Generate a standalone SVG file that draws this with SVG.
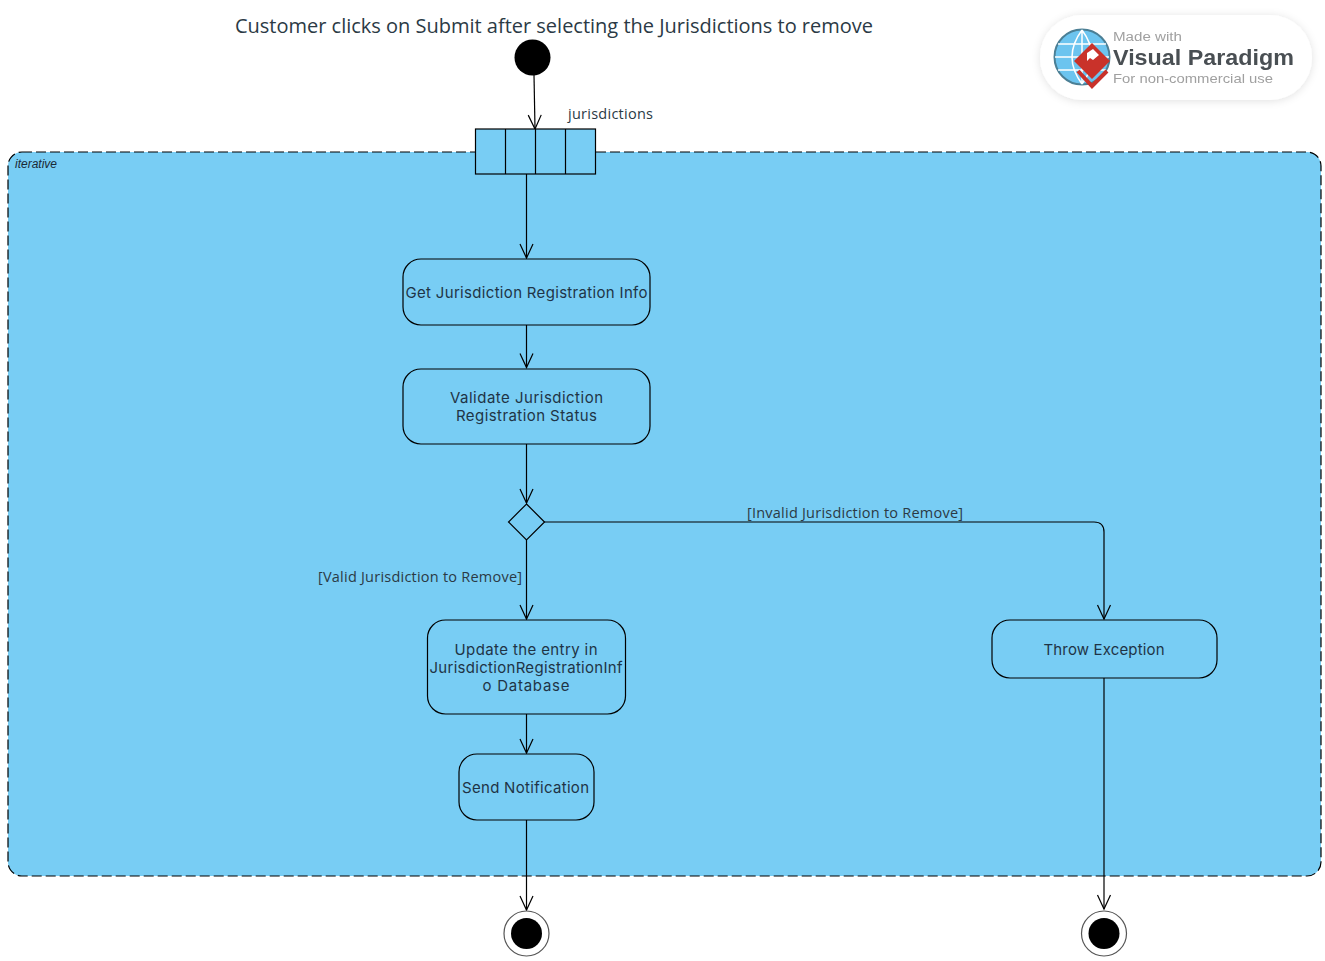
<svg xmlns="http://www.w3.org/2000/svg" width="1325" height="961" viewBox="0 0 1325 961">
<style>
.n{fill:#78cdf4;stroke:#000;stroke-width:1.2}
.c{fill:none;stroke:#000;stroke-width:1.2}
.t{font-family:"Inter","Noto Sans",sans-serif;font-size:15px;fill:#1f3446;text-anchor:middle}
.l{font-family:"Open Sans","Noto Sans",sans-serif;font-size:14.5px;fill:#2b3a45}
</style>
<defs>
<marker id="a" markerUnits="userSpaceOnUse" markerWidth="18" markerHeight="18" refX="14" refY="7" orient="auto" overflow="visible"><path d="M0 0L14 6.5L0 13" transform="translate(0 0.5)" fill="none" stroke="#000" stroke-width="1.2"/></marker>
<filter id="b" x="-10%" y="-20%" width="120%" height="140%"><feDropShadow dx="0" dy="1" stdDeviation="4" flood-color="#000" flood-opacity=".12"/></filter>
<filter id="s" x="-5%" y="-5%" width="110%" height="110%"><feGaussianBlur stdDeviation=".5"/></filter>
</defs>
<rect width="1325" height="961" fill="#fff"/>
<g id="iterative">
<rect x="8" y="152" width="1313" height="724" rx="14" fill="#78cdf4" stroke="#000" stroke-width="1.2" stroke-dasharray="10 4"/>
<text x="15" y="168" font-family="Liberation Sans,sans-serif" font-size="12" font-style="italic" fill="#1a2a36" textLength="42">iterative</text>
</g>
<g id="connectors">
<path class="c" marker-end="url(#a)" d="M534 75L535 129"/>
<path class="c" marker-end="url(#a)" d="M526.500 174V258"/>
<path class="c" marker-end="url(#a)" d="M526.500 325V367.500"/>
<path class="c" marker-end="url(#a)" d="M526.500 444V503"/>
<path class="c" marker-end="url(#a)" d="M526.500 540V619"/>
<path class="c" marker-end="url(#a)" d="M526.500 714V753"/>
<path class="c" marker-end="url(#a)" d="M526.500 820V910"/>
<path class="c" marker-end="url(#a)" d="M544 522H1094Q1104 522 1104 532V619"/>
<path class="c" marker-end="url(#a)" d="M1104 678V909"/>
</g>
<g id="title"><text x="235" y="33" font-family="Open Sans,sans-serif" font-size="20" fill="#2b3a45" textLength="638">Customer clicks on Submit after selecting the Jurisdictions to remove</text></g>
<g id="start"><circle cx="532.500" cy="57.500" r="18" fill="#000"/></g>
<g id="pin">
<rect class="n" x="475.500" y="129" width="120" height="45"/>
<path class="c" d="M505.500 129V174M535.500 129V174M565.500 129V174"/>
<text class="l" x="568" y="119" textLength="85">jurisdictions</text>
</g>
<g id="get-info">
<rect class="n" x="403" y="259" width="247" height="66" rx="18"/>
<text class="t" x="526.500" y="298" textLength="242">Get Jurisdiction Registration Info</text>
</g>
<g id="validate">
<rect class="n" x="403" y="369" width="247" height="75" rx="18"/>
<text class="t" x="526.500" y="403" textLength="153">Validate Jurisdiction</text>
<text class="t" x="526.500" y="421" textLength="141">Registration Status</text>
</g>
<g id="decision">
<path class="n" d="M526.500 504L544.500 522L526.500 540L508.500 522Z"/>
<text class="l" x="747" y="518" textLength="216">[Invalid Jurisdiction to Remove]</text>
<text class="l" x="318" y="582" textLength="204">[Valid Jurisdiction to Remove]</text>
</g>
<g id="update">
<rect class="n" x="427.500" y="620" width="198" height="94" rx="18"/>
<text class="t" x="526" y="655" textLength="143">Update the entry in</text>
<text class="t" x="526" y="673" textLength="193">JurisdictionRegistrationInf</text>
<text class="t" x="526" y="691" textLength="87">o Database</text>
</g>
<g id="send">
<rect class="n" x="459" y="754" width="135" height="66" rx="18"/>
<text class="t" x="525.500" y="793" textLength="127">Send Notification</text>
</g>
<g id="throw">
<rect class="n" x="992" y="620" width="225" height="58" rx="18"/>
<text class="t" x="1104" y="655" textLength="121">Throw Exception</text>
</g>
<g id="end-1"><circle cx="526.500" cy="933.500" r="22.500" fill="#fff" stroke="#555" stroke-width="1.200"/><circle cx="526.500" cy="933.500" r="15.500" fill="#000"/></g>
<g id="end-2"><circle cx="1104" cy="933.500" r="22.500" fill="#fff" stroke="#555" stroke-width="1.200"/><circle cx="1104" cy="933.500" r="15.500" fill="#000"/></g>
<g id="badge">
<rect x="1040" y="15" width="272" height="85" rx="42" fill="#fff" filter="url(#b)"/>
<g filter="url(#s)">
<circle cx="1082" cy="57" r="27.500" fill="#6cc4ef" stroke="#4b7f95" stroke-width="2"/>
<path d="M1055 57H1109M1082 30V84M1058 44H1106M1058 70H1106M1082 30Q1062 57 1082 84M1082 30Q1102 57 1082 84" fill="none" stroke="#fff" stroke-width="1.500"/>
<path d="M1078 71L1092 86L1107 71" fill="none" stroke="#c9302c" stroke-width="4"/>
<path d="M1092 43L1110 61L1092 79L1074 61Z" fill="#c9302c"/>
<path d="M1087 53L1093 49L1099 55L1093 60L1090 58L1087 61Z" fill="#fff"/>
<text x="1113" y="41" font-family="Liberation Sans,sans-serif" font-size="12.500" fill="#a0a0a0" textLength="69" lengthAdjust="spacingAndGlyphs">Made with</text>
<text x="1113" y="65" font-family="Liberation Sans,sans-serif" font-size="22" font-weight="700" fill="#4a4f53" textLength="181" lengthAdjust="spacingAndGlyphs">Visual Paradigm</text>
<text x="1113" y="83" font-family="Liberation Sans,sans-serif" font-size="13.500" fill="#a0a0a0" textLength="160" lengthAdjust="spacingAndGlyphs">For non-commercial use</text>
</g>
</g>
</svg>
